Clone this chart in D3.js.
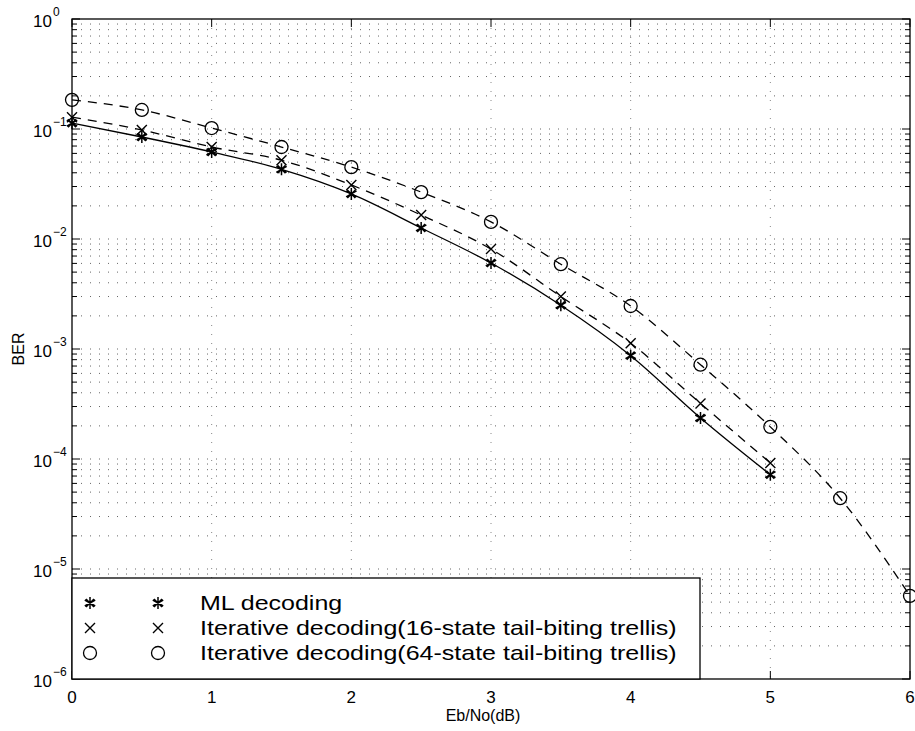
<!DOCTYPE html>
<html>
<head>
<meta charset="utf-8">
<script src="https://cdn.jsdelivr.net/npm/d3@7"></script>
<style>
  body { margin: 0; background: #fff; }
  text { font-family: "Liberation Sans", Arial, sans-serif; fill: #000; }
</style>
</head>
<body>
<div id="chart"></div>
<script>
// Eb/No points (dB)
var ebno = [0, 0.5, 1, 1.5, 2, 2.5, 3, 3.5, 4, 4.5, 5, 5.5, 6];

// BER
var berML = [0.113, 0.0846, 0.0618, 0.043, 0.0257, 0.0126, 0.00605, 0.0025, 0.00087, 0.000236, 0.000072];
var berIter16 = [0.128, 0.098, 0.0686, 0.052, 0.031, 0.0165, 0.0081, 0.003, 0.00113, 0.00032, 0.000092];
var berIter64 = [0.184, 0.149, 0.102, 0.0686, 0.045, 0.0267, 0.0143, 0.0059, 0.00246, 0.00072, 0.000196, 0.000044, 0.0000057];

var legendLabels = [
  "ML decoding",
  "Iterative decoding(16-state tail-biting trellis)",
  "Iterative decoding(64-state tail-biting trellis)"
];
var xTicks = [0, 1, 2, 3, 4, 5, 6];
var yExponents = [0, -1, -2, -3, -4, -5, -6];

var W = 915, H = 731;
var margin = {top: 19, right: 5, bottom: 52, left: 72};
var width = W - margin.left - margin.right,
    height = H - margin.top - margin.bottom;

var svg = d3.select("#chart").append("svg")
  .attr("width", W)
  .attr("height", H);

var g = svg.append("g")
  .attr("transform", "translate(" + margin.left + "," + margin.top + ")");

var x = d3.scaleLinear().domain([0, 6]).range([0, width]);
var y = d3.scaleLog().domain([1e-6, 1]).range([height, 0]);

// minor log values
var minorVals = [];
for (var e = -6; e < 0; e++) {
  for (var m = 1; m <= 9; m++) minorVals.push(m * Math.pow(10, e));
}
minorVals.push(1);

// dotted grid
g.append("g").selectAll("line.hgrid")
  .data(minorVals.filter(function(v) { return v > 1e-6 && v < 1; }))
  .enter().append("line")
    .attr("x1", 0).attr("x2", width)
    .attr("y1", function(d) { return y(d); })
    .attr("y2", function(d) { return y(d); })
    .attr("stroke", "#666")
    .attr("stroke-width", 1)
    .attr("stroke-dasharray", "1,8");

g.append("g").selectAll("line.vgrid")
  .data(xTicks.filter(function(d) { return d > 0 && d < 6; }))
  .enter().append("line")
    .attr("x1", function(d) { return x(d); })
    .attr("x2", function(d) { return x(d); })
    .attr("y1", 0).attr("y2", height)
    .attr("stroke", "#888")
    .attr("stroke-width", 1)
    .attr("stroke-dasharray", "1,8");

// box
g.append("rect")
  .attr("width", width).attr("height", height)
  .attr("fill", "none").attr("stroke", "#000").attr("stroke-width", 1.3);

// ticks on all four sides
var yMajor = yExponents.map(function(e) { return Math.pow(10, e); });
minorVals.forEach(function(v) {
  var isMajor = yMajor.some(function(mv) { return Math.abs(Math.log10(mv) - Math.log10(v)) < 1e-9; });
  var len = isMajor ? 8 : 5;
  g.append("line").attr("x1", 0).attr("x2", len)
    .attr("y1", y(v)).attr("y2", y(v)).attr("stroke", "#000");
  g.append("line").attr("x1", width).attr("x2", width - len)
    .attr("y1", y(v)).attr("y2", y(v)).attr("stroke", "#000");
});
xTicks.forEach(function(t) {
  g.append("line").attr("x1", x(t)).attr("x2", x(t))
    .attr("y1", height).attr("y2", height - 8).attr("stroke", "#000");
  g.append("line").attr("x1", x(t)).attr("x2", x(t))
    .attr("y1", 0).attr("y2", 8).attr("stroke", "#000");
});

// x tick labels
g.append("g").selectAll("text.xt")
  .data(xTicks)
  .enter().append("text")
    .attr("x", function(d) { return x(d); })
    .attr("y", height + 24)
    .attr("text-anchor", "middle")
    .style("font-size", "17px")
    .text(function(d) { return d; });

// y tick labels: 10 with superscript exponent
var yl = g.append("g").selectAll("g.yt")
  .data(yExponents)
  .enter().append("g")
    .attr("transform", function(d) { return "translate(-20," + (y(Math.pow(10, d)) + 8) + ")"; });
yl.append("text")
  .attr("text-anchor", "end")
  .style("font-size", "17px")
  .text("10");
yl.append("text")
  .attr("x", 1)
  .attr("y", -11)
  .style("font-size", "12px")
  .text(function(d) { return d === 0 ? "0" : "\u2212" + (-d); });

// axis titles
svg.append("text")
  .attr("x", margin.left + width / 2 - 8)
  .attr("y", H - 10)
  .attr("text-anchor", "middle")
  .style("font-size", "16px")
  .text("Eb/No(dB)");
svg.append("text")
  .attr("transform", "translate(24," + (margin.top + y(1e-3)) + ") rotate(-90)")
  .attr("text-anchor", "middle")
  .style("font-size", "16px")
  .text("BER");

// series
var series = [
  {name: legendLabels[0], vals: berML, dash: null, marker: "star"},
  {name: legendLabels[1], vals: berIter16, dash: "9,7", marker: "cross"},
  {name: legendLabels[2], vals: berIter64, dash: "9,7", marker: "circle"}
];

var line = d3.line()
  .x(function(d) { return x(d.x); })
  .y(function(d) { return y(d.y); })
  .curve(d3.curveMonotoneX);

function toPts(vals) {
  return vals.map(function(v, i) { return {x: ebno[i], y: v}; });
}

function drawMarker(sel, type) {
  if (type === "circle") {
    sel.append("circle").attr("r", 6.5).attr("fill", "none")
      .attr("stroke", "#000").attr("stroke-width", 1.3);
  } else if (type === "cross") {
    sel.append("path").attr("d", "M-5,-5L5,5M-5,5L5,-5")
      .attr("stroke", "#000").attr("stroke-width", 1.4);
  } else {
    sel.append("path").attr("d", "M0,-6L0,6M-5.2,-3L5.2,3M-5.2,3L5.2,-3M-4,-4L4,4M-4,4L4,-4")
      .attr("stroke", "#000").attr("stroke-width", 1.5);
  }
}

series.forEach(function(s) {
  var pts = toPts(s.vals);
  g.append("path")
    .datum(pts)
    .attr("d", line)
    .attr("fill", "none")
    .attr("stroke", "#000")
    .attr("stroke-width", 1.3)
    .attr("stroke-dasharray", s.dash);
  g.append("g").selectAll("g.mk")
    .data(pts)
    .enter().append("g")
      .attr("transform", function(d) { return "translate(" + x(d.x) + "," + y(d.y) + ")"; })
      .each(function() { drawMarker(d3.select(this), s.marker); });
});

// legend
var legTop = 578 - margin.top;
var leg = g.append("g");
leg.append("rect")
  .attr("x", 0).attr("y", legTop)
  .attr("width", 628).attr("height", height - legTop)
  .attr("fill", "#fff").attr("stroke", "#000").attr("stroke-width", 1.3);
series.forEach(function(s, i) {
  var ry = legTop + 25 + i * 25;
  [18, 86].forEach(function(mx) {
    var mg = leg.append("g").attr("transform", "translate(" + mx + "," + ry + ")");
    drawMarker(mg, s.marker);
  });
  // measure at the wide size, then draw smaller and stretched so rows don't collide
  var t = leg.append("text")
    .attr("x", 128).attr("y", ry + 8)
    .style("font-size", "25px")
    .text(s.name);
  var w = t.node().getComputedTextLength();
  t.style("font-size", "21px")
    .attr("y", ry + 7)
    .attr("textLength", w)
    .attr("lengthAdjust", "spacingAndGlyphs");
});
</script>
</body>
</html>
